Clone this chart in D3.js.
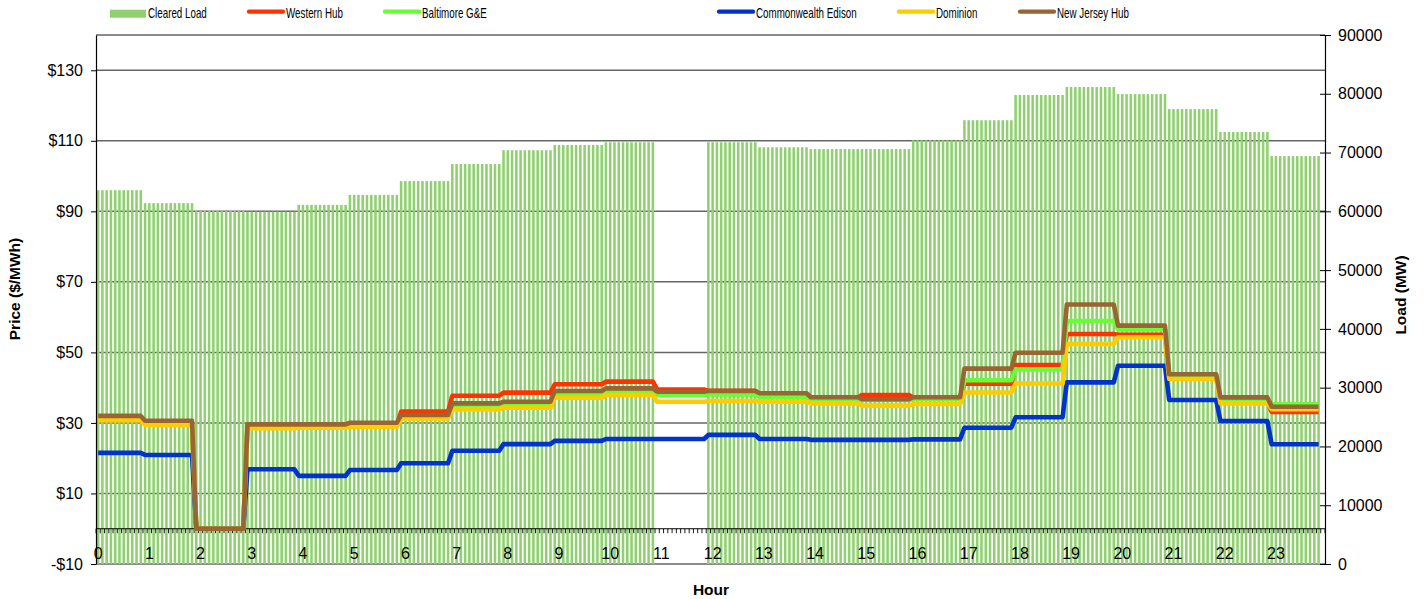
<html>
  <head>
    <title>Cleared Load and Hourly Prices</title>
    <style type="text/css">
body {
  margin: 0;
  background-color: white;
}
text {
  font-family: "Liberation Sans", Arial, sans-serif;
  fill: black;
}
.grid {
  stroke: #666;
  stroke-width: 1.5;
}
.bar {
  fill: #90d070;
}
.price {
  fill: none;
  stroke-width: 4.6;
  stroke-linejoin: round;
  stroke-linecap: butt;
}
.axis-title {
  font-weight: bold;
  font-size: 15.5px;
}
    </style>
    <script type="text/javascript" src="https://cdn.jsdelivr.net/npm/d3@7/dist/d3.min.js"></script>
  </head>
  <body>
    <div id="chart"></div>
    <script type="text/javascript">
      // Hourly values (hour 11 load is missing)
      var hours = d3.range(24);
      var hourLabels = ["0", "1", "2", "3", "4", "5", "6", "7", "8", "9", "10", "11",
                        "12", "13", "14", "15", "16", "17", "18", "19", "20", "21", "22", "23"];
      var clearedLoad = [63600, 61400, 60050, 59950, 61100, 62800, 65150, 68050, 70400, 71300, 71750, null,
                         71750, 70900, 70600, 70600, 72100, 75500, 79800, 81150, 79950, 77400, 73500, 69400];
      var westernHub = [31.0, 29.8, 0, 29.0, 29.1, 29.5, 33.2, 37.7, 38.6, 40.95, 41.7, 39.5,
                        39.1, 38.3, 37.2, 37.9, 37.2, 41.1, 46.4, 55.2, 55.0, 43.0, 36.1, 33.1];
      var baltimore = [31.2, 30.0, 0, 29.2, 29.3, 29.6, 31.8, 34.6, 35.1, 38.1, 38.85, 37.9,
                       38.1, 37.45, 36.7, 36.5, 36.8, 42.1, 45.2, 58.9, 56.55, 43.3, 36.6, 35.3];
      var comEd = [21.5, 20.9, 0, 16.85, 15.0, 16.65, 18.55, 22.1, 24.0, 24.9, 25.45, 25.45,
                   26.6, 25.45, 25.2, 25.2, 25.35, 28.65, 31.6, 41.5, 46.2, 36.5, 30.55, 23.95];
      var dominion = [30.8, 29.4, 0, 28.5, 28.65, 28.9, 31.3, 33.85, 34.3, 37.15, 37.9, 36.0,
                      36.2, 36.0, 35.55, 34.9, 35.35, 38.65, 41.2, 52.4, 54.3, 42.45, 35.55, 33.9];
      var njHub = [32.0, 30.6, 0, 29.6, 29.6, 30.05, 32.25, 35.55, 36.0, 39.05, 39.8, 38.85,
                   39.05, 38.4, 37.3, 36.7, 37.3, 45.4, 49.9, 63.6, 57.6, 43.8, 37.25, 34.6];
      var seriesNames = ["Western Hub", "Baltimore G&E", "Commonwealth Edison", "Dominion", "New Jersey Hub"];
      var seriesColors = ["#ff3300", "#66ff33", "#0033cc", "#ffcc00", "#996633"];
      var priceTicks = [-10, 10, 30, 50, 70, 90, 110, 130];
      var loadTicks = [0, 10000, 20000, 30000, 40000, 50000, 60000, 70000, 80000, 90000];

      function draw() {
        var w = 1424, h = 599;
        var plotLeft = 96, plotRight = 1325, plotTop = 35, plotBottom = 564;
        var perHour = 12, nCat = 24 * perHour, lastCat = nCat - 2;

        var svg = d3.select("#chart").append("svg")
             .attr("width", w)
             .attr("height", h);

        var x = d3.scaleBand().domain(d3.range(nCat)).range([plotLeft, plotRight])
             .paddingInner(0.4).paddingOuter(0.2);
        var xEdge = d3.scaleLinear().domain([0, nCat]).range([plotLeft, plotRight]);
        function xc(i) { return x(i) + x.bandwidth() / 2; }
        var yP = d3.scaleLinear().domain([-10, 140]).range([plotBottom, plotTop]);
        var yL = d3.scaleLinear().domain([0, 90000]).range([plotBottom, plotTop]);

        // each hour covers the intervals ending inside it: categories 12h-1 .. 12h+10
        function firstCat(hr) { return Math.max(0, hr * perHour - 1); }
        function lastCatOf(hr) { return Math.min(lastCat, hr * perHour + perHour - 2); }

        // gridlines
        svg.append("g").selectAll("line")
             .data(priceTicks.concat([140]))
             .enter().append("line")
             .attr("class", "grid")
             .attr("x1", plotLeft).attr("x2", plotRight)
             .attr("y1", function(d) { return yP(d); })
             .attr("y2", function(d) { return yP(d); });

        // load bars
        var bars = [];
        hours.forEach(function(hr) {
          if (clearedLoad[hr] == null) return;
          for (var i = firstCat(hr); i <= lastCatOf(hr); i++) bars.push({ i: i, v: clearedLoad[hr] });
        });
        svg.append("g").selectAll("rect")
             .data(bars)
             .enter().append("rect")
             .attr("class", "bar")
             .attr("x", function(d) { return x(d.i); })
             .attr("width", x.bandwidth())
             .attr("y", function(d) { return yL(d.v); })
             .attr("height", function(d) { return plotBottom - yL(d.v); });

        // category axis crossing at price 0
        var axY = yP(0);
        var cat = svg.append("g");
        cat.append("line")
             .attr("x1", plotLeft).attr("x2", plotRight)
             .attr("y1", axY).attr("y2", axY)
             .attr("stroke", "black").attr("stroke-width", 1.2);
        cat.selectAll(".tick")
             .data(d3.range(nCat + 1))
             .enter().append("line")
             .attr("class", "tick")
             .attr("x1", function(d) { return xEdge(d); })
             .attr("x2", function(d) { return xEdge(d); })
             .attr("y1", axY).attr("y2", axY + 4.5)
             .attr("stroke", "black").attr("stroke-width", 0.9);
        cat.selectAll("text")
             .data(hours)
             .enter().append("text")
             .attr("x", function(d) { return xc(d * perHour); })
             .attr("y", 559)
             .attr("text-anchor", "middle")
             .attr("font-size", "16px")
             .text(function(d) { return hourLabels[d]; });

        // price lines
        var allSeries = [westernHub, baltimore, comEd, dominion, njHub];
        var line = d3.line()
             .x(function(d) { return xc(d.i); })
             .y(function(d) { return yP(d.v); });
        allSeries.forEach(function(values, k) {
          var pts = [];
          hours.forEach(function(hr) {
            pts.push({ i: firstCat(hr), v: values[hr] });
            pts.push({ i: lastCatOf(hr), v: values[hr] });
          });
          svg.append("path")
               .datum(pts)
               .attr("class", "price")
               .attr("stroke", seriesColors[k])
               .attr("d", line);
        });

        // left axis
        var leftAxis = svg.append("g")
             .attr("transform", "translate(" + plotLeft + ",0)")
             .call(d3.axisLeft(yP).tickValues(priceTicks).tickSize(5).tickSizeOuter(0).tickPadding(8)
                   .tickFormat(function(d) { return d < 0 ? "-$" + (-d) : "$" + d; }));
        leftAxis.selectAll("text").attr("font-size", "16px").attr("font-family", null);
        leftAxis.select(".domain").attr("stroke-width", 1.2);

        // right axis (ticks cross the line)
        var rightAxis = svg.append("g")
             .attr("transform", "translate(" + plotRight + ",0)")
             .call(d3.axisRight(yL).tickValues(loadTicks).tickSize(6).tickSizeOuter(0).tickPadding(7)
                   .tickFormat(d3.format("d")));
        rightAxis.selectAll(".tick line").attr("x1", -5);
        rightAxis.selectAll("text").attr("font-size", "16px").attr("font-family", null);
        rightAxis.select(".domain").attr("stroke-width", 1.2);

        // axis titles
        svg.append("text")
             .attr("class", "axis-title")
             .attr("transform", "translate(20,289) rotate(-90)")
             .attr("text-anchor", "middle")
             .text("Price ($/MWh)");
        svg.append("text")
             .attr("class", "axis-title")
             .attr("transform", "translate(1406,295) rotate(-90)")
             .attr("text-anchor", "middle")
             .text("Load (MW)");
        svg.append("text")
             .attr("class", "axis-title")
             .attr("x", 711).attr("y", 595)
             .attr("text-anchor", "middle")
             .text("Hour");

        // legend
        var legend = svg.append("g");
        legend.append("rect")
             .attr("class", "bar")
             .attr("x", 110).attr("y", 9.7)
             .attr("width", 36).attr("height", 8);
        legend.append("text")
             .attr("transform", "translate(148,18.3) scale(0.7,1)")
             .attr("font-size", "14px")
             .text("Cleared Load");
        var legendX = [249, 385, 719, 899, 1020];
        seriesNames.forEach(function(name, k) {
          legend.append("line")
               .attr("x1", legendX[k]).attr("x2", legendX[k] + 34)
               .attr("y1", 11.7).attr("y2", 11.7)
               .attr("stroke", seriesColors[k])
               .attr("stroke-width", 4.3)
               .attr("stroke-linecap", "round");
          legend.append("text")
               .attr("transform", "translate(" + (legendX[k] + 37) + ",18.3) scale(0.7,1)")
               .attr("font-size", "14px")
               .text(name);
        });
      }

      draw();
    </script>
  </body>
</html>
